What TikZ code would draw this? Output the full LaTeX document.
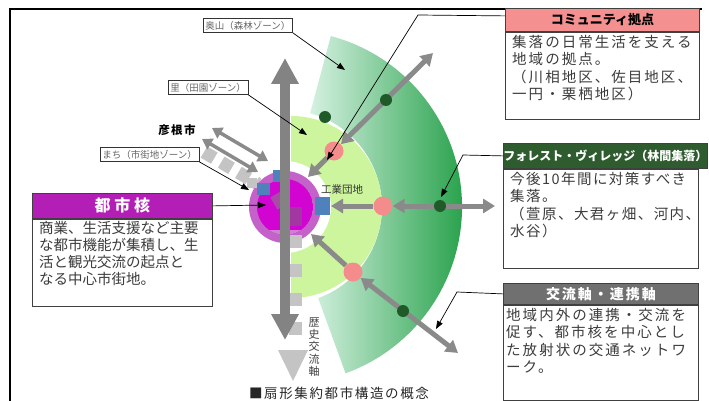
\documentclass[tikz,border=0pt]{standalone}
\usepackage{fontspec}
\setmainfont{Noto Sans CJK JP}
\usetikzlibrary{arrows.meta}
\definecolor{fanL}{HTML}{D5F1E1}
\definecolor{fanR}{HTML}{15993B}
\definecolor{lgreen}{HTML}{CCF59E}
\definecolor{pink1}{HTML}{F48C8C}
\definecolor{dgreen}{HTML}{1F5A28}
\definecolor{arrowgray}{HTML}{8A8A8A}
\definecolor{lgray}{HTML}{C4C4C4}
\definecolor{purpleL}{HTML}{C462CA}
\definecolor{magentaC}{HTML}{D204D2}
\definecolor{purpleD}{HTML}{A84CA8}
\definecolor{blueS}{HTML}{4F81BD}
\definecolor{hdrPurple}{HTML}{B31FB6}
\definecolor{hdrPink}{HTML}{F59090}
\definecolor{hdrGreen}{HTML}{2E5C2E}
\definecolor{hdrGray}{HTML}{707070}
\definecolor{txt}{HTML}{3C3C3C}
\begin{document}
\begin{tikzpicture}[x=1pt,y=-1pt,
  every node/.style={inner sep=0pt},
  garrow/.style={draw=arrowgray, line width=5pt, -{Triangle[length=12pt,width=14pt]}},
  gdouble/.style={draw=arrowgray, line width=5pt, {Triangle[length=12pt,width=14pt]}-{Triangle[length=12pt,width=14pt]}},
  hikone/.style={draw=arrowgray, line width=3.5pt, {Triangle[length=10pt,width=12pt]}-{Triangle[length=10pt,width=12pt]}},
  callout/.style={draw=black, line width=0.7pt, -{Triangle[length=8pt,width=6pt]}},
  zonelabel/.style={draw=black!80, line width=0.8pt, fill=white, font=\fontsize{9.5}{10}\selectfont, text=black!60, inner xsep=2pt, inner ysep=2.5pt},
  pinkdot/.style={circle, fill=pink1, minimum size=19pt},
  greendot/.style={circle, fill=dgreen, minimum size=12pt},
  hdr/.style={draw=black!75, line width=0.8pt, anchor=north west, text=white, font=\fontsize{13}{14}\selectfont\bfseries},
  bodybox/.style={draw=black!75, line width=0.8pt, fill=white, anchor=north west},
  bodytext/.style={anchor=north west, align=left, text=txt, font=\fontsize{14.5}{17.5}\selectfont\addfontfeature{LetterSpace=14}}
]
\useasboundingbox (0,0) rectangle (709,401);
% frame
\coordinate (f1) at (10,401); \coordinate (f2) at (10,9); \coordinate (f3) at (702,9);
\draw[line width=1.6pt] (f1) -- (f2) -- (f3);

\coordinate (C) at (285,207);
\coordinate (C2) at (291,207);
% outer forest fan
\shade[left color=fanL, right color=fanR] ([shift={(C)}]-75:177) arc[start angle=-75, end angle=70, radius=177] -- ([shift={(C)}]70:97) arc[start angle=70, end angle=-75, radius=97] -- cycle;
% rural zone
\fill[lgreen] ([shift={(C2)}]-90:91) arc[start angle=-90, end angle=90, radius=91] -- cycle;
\fill[white] (C) circle[radius=46];

% historical axis (light gray, dashed)
\coordinate (h1) at (295,235); \coordinate (h2) at (295,342);
\draw[lgray, line width=13pt, dash pattern=on 13pt off 16pt] (h1) -- (h2);
\fill[lgray] (278,350) -- (308,350) -- (293,381) -- cycle;
% machi zone band (light gray dashed)
\coordinate (m1) at (204,152); \coordinate (m2) at (258,184);
\draw[lgray, line width=13pt, dash pattern=on 12pt off 8pt] (m1) -- (m2);

% core
\fill[purpleL] (C) circle[radius=36];
\begin{scope}
\clip (C) circle[radius=28];
\fill[magentaC] (C) circle[radius=28];
\fill[purpleL!80!white] (250,230) rectangle (320,245);
\end{scope}
\fill[purpleD, rotate around={30:(280,200)}] (273,193) rectangle (287,207);
\fill[purpleD!90!black, opacity=0.8] (287,207) rectangle (302,226);
\fill[blueS] (273,170) rectangle (285,182);
\fill[blueS] (257,183) rectangle (270,195);
\fill[lgray] (247,178) rectangle (257,188);
\fill[lgray] (290,235) rectangle (302,248);
\fill[blueS] (315,197) rectangle (330,215);

% main vertical axis
\coordinate (vT) at (285,58); \coordinate (vB) at (285,340);
\draw[draw=arrowgray!95!black, line width=10pt, {Triangle[length=26pt,width=26pt]}-{Triangle[length=26pt,width=26pt]}] (vB) -- (vT);

% Hikone double arrows
\coordinate (k1a) at (212,128); \coordinate (k1b) at (268,161);
\coordinate (k2a) at (202,139); \coordinate (k2b) at (258,172);
\draw[hikone] (k1a) -- (k1b);
\draw[hikone] (k2a) -- (k2b);

% pink community nodes and green forest villages
\node[pinkdot] (p1) at (334,151) {};
\node[pinkdot] (p2) at (383,206) {};
\node[pinkdot] (p3) at (353,272) {};
\coordinate (e1) at (433,53); \coordinate (e2) at (495,206); \coordinate (e3) at (458,353);
\coordinate (c1) at (308,177); \coordinate (c2) at (331,206); \coordinate (c3) at (311,234);
\draw[garrow] (p1) -- (c1);
\draw[garrow] (p2) -- (c2);
\draw[garrow] (p3) -- (c3);
\draw[gdouble] (p1) -- (e1);
\draw[gdouble] (p2) -- (e2);
\draw[gdouble] (p3) -- (e3);
\node[greendot] (d1) at (386,100) {};
\node[greendot] (d2) at (440,206) {};
\node[greendot] (d3) at (403,311) {};
\node[greendot] (d4) at (325,117) {};

% text labels
\node[font=\fontsize{10.5}{11}\selectfont, text=black!80] (kogyo) at (342,190) {工業団地};
\node[font=\fontsize{11.5}{12}\selectfont\bfseries\addfontfeature{LetterSpace=12}] (hikoneT) at (177,130) {彦根市};
\node[font=\fontsize{11}{12.3}\selectfont, text=black!75, align=center] (rekishi) at (314,347) {歴\\史\\交\\流\\軸};
\node[font=\fontsize{13.5}{14}\selectfont\addfontfeature{LetterSpace=12}, text=black!85] (caption) at (339,393) {■扇形集約都市構造の概念};

% zone labels
\node[zonelabel, anchor=north west] (okuyama) at (203,18) {奥山（森林ゾーン）};
\node[zonelabel, anchor=north west] (sato) at (168,80) {里（田園ゾーン）};
\node[zonelabel, anchor=north west] (machi) at (100,147) {まち（市街地ゾーン）};
\coordinate (t1) at (345,70); \coordinate (t2) at (307,135); \coordinate (t3) at (249,190);
\draw[callout] (okuyama.south east) -- (t1);
\draw[callout] (sato.south east) -- (t2);
\draw[callout] (machi.south east) -- (t3);

% 都市核 box
\node[hdr, fill=hdrPurple, minimum width=180pt, minimum height=25pt, font=\fontsize{16}{17}\selectfont\bfseries] (tkh) at (32,193) {都 市 核};
\node[bodybox, minimum width=180pt, minimum height=87pt] (tkb) at (tkh.south west) {};
\node[bodytext, font=\fontsize{14.5}{17}\selectfont] (tkt) at ([xshift=7pt,yshift=-2pt]tkb.north west) {商業、生活支援など主要\\な都市機能が集積し、生\\活と観光交流の起点と\\なる中心市街地。};
\coordinate (tkend) at (266,205);
\draw[callout] (tkh.east) -- (tkend);

% コミュニティ拠点 box
\node[hdr, fill=hdrPink, text=black, minimum width=194pt, minimum height=23pt] (cmh) at (505,8) {コミュニティ拠点};
\node[bodybox, minimum width=194pt, minimum height=87pt] (cmb) at (cmh.south west) {};
\node[bodytext] (cmt) at ([xshift=7pt,yshift=-3pt]cmb.north west) {集落の日常生活を支える\\地域の拠点。\\（川相地区、佐目地区、\\一円・栗栖地区）};
\coordinate (cmk) at (418,15); \coordinate (cmend) at (327,160);
\draw[callout] ([yshift=4pt]cmh.west) -- (cmk) -- (cmend);

% フォレスト・ヴィレッジ box
\node[hdr, fill=hdrGreen, minimum width=195pt, minimum height=25pt, font=\fontsize{12}{13}\selectfont\bfseries] (fvh) at (503,143) {フォレスト・ヴィレッジ（林間集落）};
\node[bodybox, minimum width=195pt, minimum height=99pt] (fvb) at (fvh.south west) {};
\node[bodytext, font=\fontsize{14.5}{17.5}\selectfont\addfontfeature{LetterSpace=10}] (fvt) at ([xshift=7pt,yshift=-3pt]fvb.north west) {今後10年間に対策すべき\\集落。\\（萱原、大君ヶ畑、河内、\\水谷）};
\coordinate (fvk) at (463,155); \coordinate (fvend) at (441,197);
\draw[callout] (fvh.west) -- (fvk) -- (fvend);

% 交流軸・連携軸 box
\node[hdr, fill=hdrGray, minimum width=195pt, minimum height=21pt, font=\fontsize{14}{15}\selectfont\bfseries\addfontfeature{LetterSpace=14}] (krh) at (503,283) {交流軸・連携軸};
\node[bodybox, minimum width=195pt, minimum height=95pt] (krb) at (krh.south west) {};
\node[bodytext] (krt) at ([xshift=3pt,yshift=-3pt]krb.north west) {地域内外の連携・交流を\\促す、都市核を中心とし\\た放射状の交通ネットワ\\ーク。};
\coordinate (krk) at (457,292); \coordinate (krend) at (436,329);
\draw[callout] (krh.west) -- (krk) -- (krend);
\end{tikzpicture}
\end{document}
